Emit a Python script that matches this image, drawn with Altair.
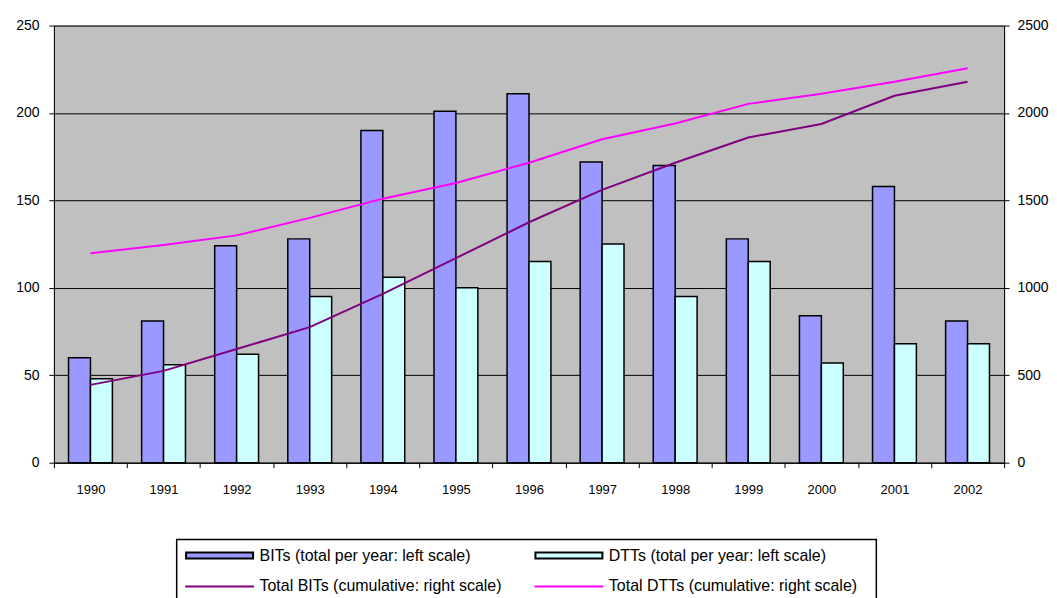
import altair as alt
import pandas as pd

years = [str(y) for y in range(1990, 2003)]
bits_per_year = [60, 81, 124, 128, 190, 201, 211, 172, 170, 128, 84, 158, 81]
dtts_per_year = [48, 56, 62, 95, 106, 100, 115, 125, 95, 115, 57, 68, 68]
bits_total = [445, 525, 650, 775, 965, 1170, 1375, 1560, 1715, 1860, 1937, 2098, 2178]
dtts_total = [1198, 1245, 1300, 1400, 1510, 1600, 1715, 1850, 1940, 2052, 2110, 2178, 2256]

bar_names = ["BITs (total per year: left scale)", "DTTs (total per year: left scale)"]
line_names = ["Total BITs (cumulative: right scale)", "Total DTTs (cumulative: right scale)"]
bar_colors = ["#9999FF", "#CCFFFF"]
line_colors = ["#800080", "#FF00FF"]

FONT = "Liberation Sans"

bars_df = pd.DataFrame({
    "year": years * 2,
    "series": [bar_names[0]] * len(years) + [bar_names[1]] * len(years),
    "value": bits_per_year + dtts_per_year,
})
lines_df = pd.DataFrame({
    "year": years * 2,
    "series": [line_names[0]] * len(years) + [line_names[1]] * len(years),
    "value": bits_total + dtts_total,
})

x_enc = alt.X(
    "year:N", sort=years,
    scale=alt.Scale(paddingInner=0, paddingOuter=0),
    axis=alt.Axis(title=None, labelAngle=0, tickBand="extent", ticks=True, tickSize=5,
                  tickColor="black", domainColor="black", labelPadding=16, labelFontSize=13,
                  labelColor="black", grid=False, labelFont=FONT),
)

bars = alt.Chart(bars_df).mark_bar(stroke="black", strokeWidth=1.5).encode(
    x=x_enc,
    xOffset=alt.XOffset("series:N", sort=bar_names,
                        scale=alt.Scale(paddingInner=0, paddingOuter=0.667)),
    y=alt.Y("value:Q", scale=alt.Scale(domain=[0, 250], nice=False),
            axis=alt.Axis(title=None, values=[0, 50, 100, 150, 200, 250], grid=True,
                          gridColor="black", gridWidth=1, gridOpacity=1, tickSize=5,
                          tickColor="black", domainColor="black", labelPadding=10,
                          labelFontSize=14, labelColor="black", minExtent=40,
                          maxExtent=40, labelFont=FONT)),
    fill=alt.Fill("series:N", scale=alt.Scale(domain=bar_names, range=bar_colors), legend=None),
)

lines = alt.Chart(lines_df).mark_line(strokeWidth=2).encode(
    x=alt.X("year:N", sort=years),
    y=alt.Y("value:Q", scale=alt.Scale(domain=[0, 2500], nice=False),
            axis=alt.Axis(orient="right", title=None, values=[0, 500, 1000, 1500, 2000, 2500],
                          format="d", grid=False, tickSize=5, tickColor="black",
                          domainColor="black", labelPadding=8, labelFontSize=14,
                          labelColor="black", labelFont=FONT)),
    stroke=alt.Stroke("series:N", scale=alt.Scale(domain=line_names, range=line_colors), legend=None),
)

main = alt.layer(bars, lines).resolve_scale(y="independent").properties(
    width=952, height=438,
    view=alt.ViewBackground(fill="#C0C0C0", stroke="#808080", strokeWidth=1),
)

# legend panel (same width as the plot, box drawn inside it)
legend_labels = bar_names + line_names
legend_df = pd.DataFrame({
    "label": legend_labels,
    "col": [0, 1, 0, 1],
    "row": [0, 0, 1, 1],
    "kind": ["bar", "bar", "line", "line"],
})
lx = alt.X("col:Q", scale=alt.Scale(domain=[0, 1], range=[166, 516], nice=False, zero=False), axis=None)
ly = alt.Y("row:Q", scale=alt.Scale(domain=[0, 1], range=[16, 47], nice=False, zero=False), axis=None)
box = alt.Chart(pd.DataFrame({"box": ["legend"]})).mark_rect(
    fill="white", stroke="black", strokeWidth=1.5,
).encode(x=alt.value(123), x2=alt.value(824), y=alt.value(0), y2=alt.value(66))
lbase = alt.Chart(legend_df).encode(x=lx, y=ly)
sw_bar = lbase.transform_filter(alt.datum.kind == "bar").mark_point(
    shape="M-1,-0.09H1V0.09H-1Z", size=4500, filled=True, opacity=1,
    stroke="black", strokeWidth=2,
).encode(fill=alt.Fill("label:N", scale=alt.Scale(domain=bar_names, range=bar_colors), legend=None))
sw_line = lbase.transform_filter(alt.datum.kind == "line").mark_point(
    shape="stroke", size=4761, opacity=1, strokeWidth=2, filled=False,
).encode(stroke=alt.Stroke("label:N", scale=alt.Scale(domain=line_names, range=line_colors), legend=None))
txt = lbase.mark_text(align="left", baseline="middle", dx=40, fontSize=16, color="black",
                      font=FONT).encode(text="label:N")
legend = alt.layer(box, sw_bar, sw_line, txt).properties(
    width=952, height=66,
    view=alt.ViewBackground(fill="white", stroke=None, strokeWidth=0),
)

chart = alt.vconcat(main, legend, spacing=41).properties(
    padding={"left": 5, "top": 9, "right": 0, "bottom": 0},
    background="white",
).configure(font=FONT)

chart.save("out.html", embed_options={"renderer": "svg", "actions": False})
